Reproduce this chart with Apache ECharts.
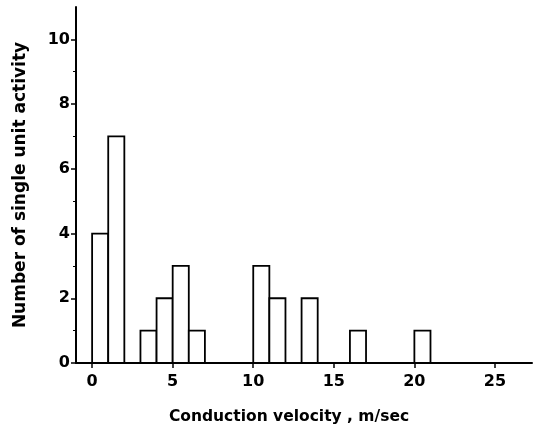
<!DOCTYPE html>
<html><head><meta charset="utf-8">
<script src="https://cdn.jsdelivr.net/npm/echarts@6/dist/echarts.min.js"></script>
<style>html,body{margin:0;padding:0;background:#fff}#c{width:537px;height:435px}</style>
</head><body><div id="c"></div>
<script>
const binStarts = [0, 1, 3, 4, 5, 6, 10, 11, 13, 16, 20];
const counts    = [4, 7, 1, 2, 3, 1, 3, 2, 2, 1, 1];
const binWidth = 1;
const xTicks = [0, 5, 10, 15, 20, 25];
const yTicks = [0, 2, 4, 6, 8, 10];

const data = binStarts.map((s, i) => [s, s + binWidth, counts[i]]);
const chart = echarts.init(document.getElementById('c'));
const font = 'DejaVu Sans, sans-serif';
chart.setOption({
  animation: false,
  grid: {left: 76, right: 5, top: 7, bottom: 72},
  xAxis: {
    type: 'value', min: -1, max: 27.3,
    name: 'Conduction velocity , m/sec', nameLocation: 'middle', nameGap: 46,
    nameTextStyle: {color: '#000', fontFamily: font, fontSize: 15.5, fontWeight: 'bold', padding: [0, 30, 0, 0]},
    axisLine: {show: true, onZero: false, lineStyle: {color: '#000', width: 2}},
    axisTick: {show: true, customValues: xTicks, length: 5, inside: false, lineStyle: {color: '#000', width: 1.5}},
    axisLabel: {customValues: xTicks, color: '#000', fontFamily: font, fontSize: 16, fontWeight: 'bold', margin: 11},
    splitLine: {show: false}
  },
  yAxis: {
    type: 'value', min: 0, max: 11, interval: 2,
    name: 'Number of single unit activity', nameLocation: 'middle', nameGap: 47,
    nameTextStyle: {color: '#000', fontFamily: font, fontSize: 17, fontWeight: 'bold'},
    axisLine: {show: true, onZero: false, lineStyle: {color: '#000', width: 2}},
    axisTick: {show: true, customValues: yTicks, length: 5, lineStyle: {color: '#000', width: 1.5}},
    minorTick: {show: true, splitNumber: 2, length: 3, lineStyle: {color: '#000', width: 1}},
    axisLabel: {customValues: yTicks, color: '#000', fontFamily: font, fontSize: 16, fontWeight: 'bold', margin: 6},
    splitLine: {show: false}
  },
  series: [{
    type: 'custom',
    data: data,
    renderItem: function (params, api) {
      const p0 = api.coord([api.value(0), 0]);
      const p1 = api.coord([api.value(1), api.value(2)]);
      return {
        type: 'rect',
        shape: {x: p0[0], y: p1[1], width: p1[0] - p0[0], height: p0[1] - p1[1]},
        style: {fill: '#fff', stroke: '#000', lineWidth: 1.8}
      };
    },
    encode: {x: [0, 1], y: 2}
  }]
});
</script></body></html>
